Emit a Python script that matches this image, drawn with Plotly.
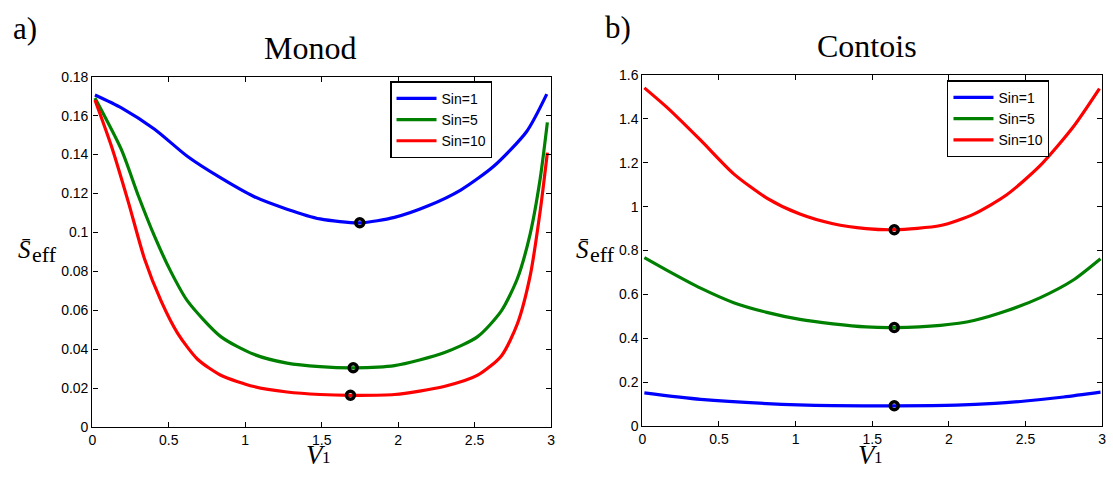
import plotly.graph_objects as go

# ---------------- data ----------------
series_names = ["Sin=1", "Sin=5", "Sin=10"]
series_colors = ["#0000ff", "#008000", "#ff0000"]

# Monod panel
monod_v1 = [0.017, 0.19, 0.407, 0.623, 0.84, 1.056, 1.273, 1.489, 1.75, 1.976, 2.193, 2.409, 2.625, 2.842, 2.972]
monod_s1 = [0.1706, 0.164, 0.153, 0.139, 0.128, 0.1185, 0.112, 0.107, 0.105, 0.1078, 0.1136, 0.1218, 0.134, 0.152, 0.171]

monod_v5 = [0.017, 0.19, 0.30, 0.407, 0.515, 0.623, 0.84, 1.056, 1.273, 1.489, 1.706, 1.976, 2.30, 2.52, 2.675, 2.78, 2.864, 2.929, 2.976]
monod_s5 = [0.169, 0.1425, 0.119, 0.098, 0.0797, 0.0648, 0.0466, 0.0375, 0.033, 0.0312, 0.0306, 0.0317, 0.0383, 0.0466, 0.0598, 0.0764, 0.0995, 0.1276, 0.1565]

monod_v10 = [0.017, 0.126, 0.234, 0.342, 0.45, 0.558, 0.688, 0.84, 1.056, 1.273, 1.489, 1.688, 1.976, 2.30, 2.52, 2.675, 2.78, 2.864, 2.929, 2.976]
monod_s10 = [0.168, 0.144, 0.116, 0.0863, 0.0648, 0.0483, 0.035, 0.0268, 0.021, 0.0182, 0.0169, 0.0165, 0.0169, 0.021, 0.0268, 0.0367, 0.0532, 0.078, 0.111, 0.141]

monod_opt_v = [1.749, 1.706, 1.688]
monod_opt_s = [0.105, 0.0306, 0.0165]

# Contois panel
contois_v1 = [0.013, 0.38, 0.812, 1.244, 1.644, 2.05, 2.3, 2.5, 2.75, 2.99]
contois_s1 = [0.1525, 0.123, 0.104, 0.095, 0.094, 0.097, 0.105, 0.116, 0.134, 0.156]

contois_v5 = [0.013, 0.164, 0.38, 0.596, 0.812, 1.028, 1.244, 1.46, 1.644, 1.946, 2.163, 2.378, 2.594, 2.81, 2.99]
contois_s5 = [0.768, 0.709, 0.629, 0.563, 0.519, 0.487, 0.467, 0.453, 0.45, 0.46, 0.482, 0.526, 0.585, 0.665, 0.763]

contois_v10 = [0.013, 0.164, 0.38, 0.596, 0.812, 1.028, 1.244, 1.46, 1.644, 1.946, 2.163, 2.378, 2.594, 2.81, 2.983]
contois_s10 = [1.54, 1.449, 1.302, 1.149, 1.039, 0.966, 0.922, 0.90, 0.895, 0.914, 0.966, 1.054, 1.185, 1.361, 1.537]

contois_opt_v = [1.644, 1.644, 1.644]
contois_opt_s = [0.094, 0.45, 0.895]

x_tickvals = [0, 0.5, 1, 1.5, 2, 2.5, 3]
monod_yticks = [0, 0.02, 0.04, 0.06, 0.08, 0.1, 0.12, 0.14, 0.16, 0.18]
contois_yticks = [0, 0.2, 0.4, 0.6, 0.8, 1, 1.2, 1.4, 1.6]

# ---------------- figure ----------------
W, H = 1113, 477
def px(x):
    return x / W
def py(y):
    return 1 - y / H

fig = go.Figure()

monod = [(monod_v1, monod_s1), (monod_v5, monod_s5), (monod_v10, monod_s10)]
contois = [(contois_v1, contois_s1), (contois_v5, contois_s5), (contois_v10, contois_s10)]

for (xv, yv), name, col in zip(monod, series_names, series_colors):
    fig.add_trace(go.Scatter(x=xv, y=yv, mode="lines", name=name,
                             line=dict(color=col, width=3.2, shape="spline", smoothing=0.7),
                             xaxis="x", yaxis="y", legend="legend"))
for (xv, yv), name, col in zip(contois, series_names, series_colors):
    fig.add_trace(go.Scatter(x=xv, y=yv, mode="lines", name=name,
                             line=dict(color=col, width=3.2, shape="spline", smoothing=0.7),
                             xaxis="x2", yaxis="y2", legend="legend2"))

mk = dict(symbol="circle-open", size=8, color="black", line=dict(color="black", width=3.5))
fig.add_trace(go.Scatter(x=monod_opt_v, y=monod_opt_s, mode="markers", marker=mk,
                         showlegend=False, xaxis="x", yaxis="y"))
fig.add_trace(go.Scatter(x=contois_opt_v, y=contois_opt_s, mode="markers", marker=mk,
                         showlegend=False, xaxis="x2", yaxis="y2"))

sans = "Liberation Sans, Arial, sans-serif"
tickfont = dict(family=sans, size=14, color="black")
axis_common = dict(showline=True, linecolor="black", linewidth=1.3, mirror="ticks",
                   ticks="inside", ticklen=5, tickwidth=1, tickcolor="black",
                   showgrid=False, zeroline=False, tickfont=tickfont,
                   ticklabeloverflow="allow")

legend_common = dict(xanchor="left", yanchor="top",
                     bgcolor="white", bordercolor="black", borderwidth=1.3,
                     font=dict(family=sans, size=14, color="black"),
                     tracegroupgap=0, itemwidth=40)

fig.update_layout(
    width=W, height=H,
    margin=dict(l=0, r=0, t=0, b=0),
    paper_bgcolor="white", plot_bgcolor="white",
    xaxis=dict(domain=[px(89), px(551)], range=[0, 3], tickvals=x_tickvals, anchor="y", **axis_common),
    yaxis=dict(domain=[py(434), py(71)], range=[0, 0.18], tickvals=monod_yticks, anchor="x", **axis_common),
    xaxis2=dict(domain=[px(643), px(1106)], range=[0, 3], tickvals=x_tickvals, anchor="y2", **axis_common),
    yaxis2=dict(domain=[py(433), py(69)], range=[0, 1.6], tickvals=contois_yticks, anchor="x2", **axis_common),
    legend=dict(x=px(389), y=py(76), **legend_common),
    legend2=dict(x=px(950), y=py(75), **legend_common),
)

serif = "Liberation Serif, Times New Roman, serif"

def label(text, xc, yc, size, yanchor="middle"):
    fig.add_annotation(text=text, x=px(xc), y=py(yc), xref="paper", yref="paper",
                       xanchor="center", yanchor=yanchor, showarrow=False,
                       font=dict(family=serif, size=size, color="black"))

label("Monod", 308.5, 41, 32)
label("Contois", 869, 39, 32)
label("a)", 21, 21, 31)
label("b)", 618, 20, 31)

# y-axis labels: S-bar with subscript eff
for dx in [0, 562]:
    label("<i>S\u0304</i>", 21 + dx, 249.5, 25)
    label("eff", 40.5 + dx, 255.5, 22)

# x-axis labels: V with subscript 1
for xv, x1 in [(314, 325), (870, 881)]:
    label("<i>V</i>", xv, 463, 27)
    label("1", x1, 477, 17, yanchor="bottom")

# remove the default 8px page margin so the 1113x477 figure fills the window exactly
fig.write_html("out.html", config={"displayModeBar": False},
               post_script="document.body.style.margin='0px';")
